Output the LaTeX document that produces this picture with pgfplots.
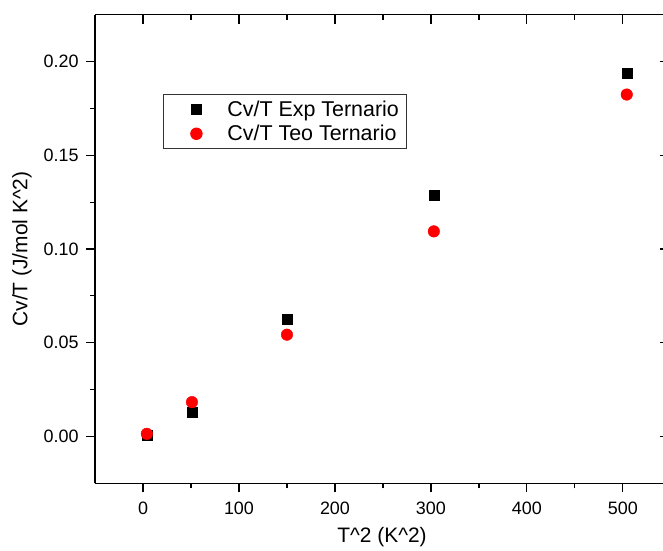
\documentclass[border=0pt]{standalone}
\usepackage{pgfplots}
\pgfplotsset{compat=1.18}
\usepackage{fontspec}
\setmainfont{Liberation Sans}
\begin{document}
\begin{tikzpicture}
\pgfplotsset{
  common/.style={
    scale only axis, width=574bp, height=468.6bp,
    xmin=-50, xmax=548, ymin=-0.025, ymax=0.225,
    xtick={0,100,...,500}, ytick={0,0.05,...,0.2},
    minor x tick num=1, minor y tick num=1,
    major tick length=9bp, minor tick length=5bp,
    every tick/.style={black, line width=1.1pt},
    axis line style={line width=1.3pt},
  },
  widelegend/.style={legend image code/.code={\draw[mark repeat=2, mark phase=2, ##1] plot coordinates {(0bp,0bp) (27bp,0bp) (54bp,0bp)}; \path[draw=none, fill=none] (0bp,-1bp) rectangle (46bp,1bp);}},
}
\begin{axis}[common,
  axis x line*=top, axis y line*=right, tick align=inside,
  xticklabels={}, yticklabels={}]
\end{axis}
\begin{axis}[common,
  axis x line*=bottom, axis y line*=left, tick align=outside,
  /pgf/number format/assume math mode=true,
  yticklabel style={/pgf/number format/fixed, /pgf/number format/fixed zerofill, /pgf/number format/precision=2, font=\fontsize{18}{21}\selectfont, xshift=-4bp},
  xticklabel style={font=\fontsize{18}{21}\selectfont, yshift=-6bp},
  scaled y ticks=false,
  xlabel={T\^{}2 (K\^{}2)}, ylabel={Cv/T (J/mol K\^{}2)},
  every axis x label/.style={at={(axis description cs:0.5,0)}, anchor=center, yshift=-53.7bp, font=\fontsize{21}{25}\selectfont},
  every axis y label/.style={at={(axis description cs:0,0.5)}, anchor=center, rotate=90, yshift=73bp, font=\fontsize{21}{25}\selectfont},
  legend style={at={(rel axis cs:0.1185,0.830)}, anchor=north west, draw=black!80, line width=0.8pt, font=\fontsize{21.5}{25}\selectfont, inner xsep=6bp, inner ysep=4bp, row sep=3.5bp,
    /tikz/every odd column/.append style={column sep=10bp}},
  legend cell align=left,
]
\addplot[only marks, mark=square*, mark size=5bp, black, widelegend] coordinates {
(4,0.0006) (51,0.0127) (150,0.0624) (303,0.1288) (504,0.1939)
};
\addlegendentry{Cv/T Exp Ternario}
\addplot[only marks, mark=*, mark size=5.8bp, red, mark options={draw=red, fill=red}, widelegend] coordinates {
(4,0.0014) (51,0.0183) (150,0.0543) (303,0.1094) (504,0.1824)
};
\addlegendentry{Cv/T Teo Ternario}
\end{axis}
\pgfresetboundingbox
\path[use as bounding box] ([shift={(-95bp,-67.7bp)}]current axis.south west) rectangle ([shift={(568bp,483.3bp)}]current axis.south west);
\end{tikzpicture}
\end{document}
